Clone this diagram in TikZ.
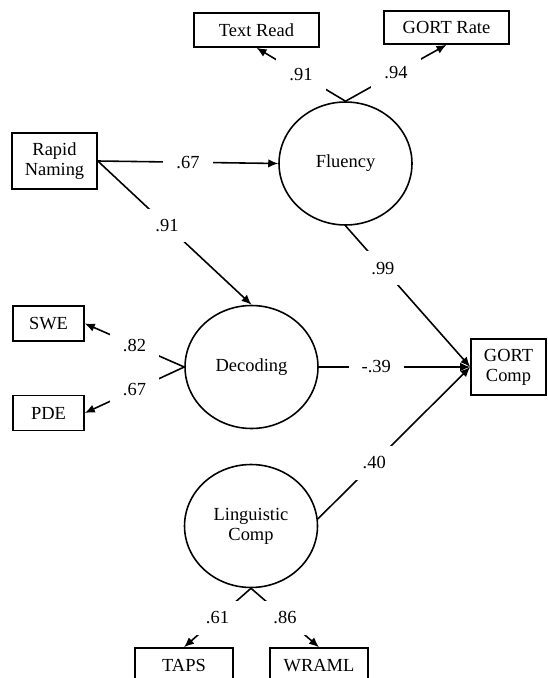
\documentclass[tikz,border=0pt]{standalone}
\usepackage{fontspec}
\setmainfont{Liberation Serif}
\usetikzlibrary{shapes.geometric,arrows.meta}

\tikzset{
  latent/.style={ellipse, draw, line width=0.9pt, minimum width=2.66cm, minimum height=2.46cm, inner sep=0pt, align=center},
  manifest/.style={rectangle, draw, line width=0.9pt, inner sep=0pt, align=center},
  effect/.style={line width=0.9pt, -{Latex[length=2mm,width=1.7mm]}},
  weight/.style={fill=white, inner xsep=7.5pt, inner ysep=6pt}
}

\begin{document}
\begin{tikzpicture}[x=0.02cm, y=-0.02cm, font=\fontsize{10.5}{11.5}\selectfont]
\useasboundingbox (0,0) rectangle (547,678);
\clip (0,0) rectangle (547,678);

% indicators and latent factors
\node[manifest, minimum width=2.5cm, minimum height=0.68cm] (textread) at (256.5,30) {Text Read};
\node[manifest, minimum width=2.5cm, minimum height=0.66cm] (gortrate) at (446.5,27.5) {GORT Rate};
\node[manifest, minimum width=1.7cm, minimum height=1.12cm] (rapid) at (54.5,161) {Rapid\\Naming};
\node[latent] (fluency) at (345.5,163.5) {Fluency};
\node[manifest, minimum width=1.42cm, minimum height=0.7cm] (swe) at (48.5,323.5) {SWE};
\node[manifest, minimum width=1.42cm, minimum height=0.7cm] (pde) at (48.5,413) {PDE};
\node[latent] (decoding) at (251.5,367) {Decoding};
\node[manifest, minimum width=1.5cm, minimum height=1.12cm] (gortcomp) at (508.5,367) {GORT\\Comp};
\node[latent] (ling) at (251,526) {Linguistic\\Comp};
\node[manifest, minimum width=1.96cm, minimum height=0.7cm] (taps) at (184,665.5) {TAPS};
\node[manifest, minimum width=1.96cm, minimum height=0.7cm] (wraml) at (319,665.5) {WRAML};

% loadings
\draw[effect] (fluency.north) -- (textread.south) node[weight, midway] {.91};
\draw[effect] (fluency.north) -- (gortrate.south) node[weight, midway] {.94};
\draw[effect] (decoding.west) -- (swe.east) node[weight, midway] {.82};
\draw[effect] (decoding.west) -- (pde.east) node[weight, midway] {.67};
\draw[effect] (ling.south) -- (taps.north) node[weight, midway] {.61};
\draw[effect] (ling.south) -- (wraml.north) node[weight, midway] {.86};

% structural paths
\draw[effect] (rapid.east) -- (fluency.west) node[weight, midway] {.67};
\draw[effect] (rapid.east) -- (decoding.north) node[weight, pos=0.45] {.91};
\draw[effect] (fluency.south) -- (gortcomp.west) node[weight, pos=0.3] {.99};
\draw[effect] (decoding.east) -- (gortcomp.west) node[weight, pos=0.38] {-.39};
\draw[effect] (ling.6) -- (gortcomp.west) node[weight, pos=0.37] {.40};
\end{tikzpicture}
\end{document}
